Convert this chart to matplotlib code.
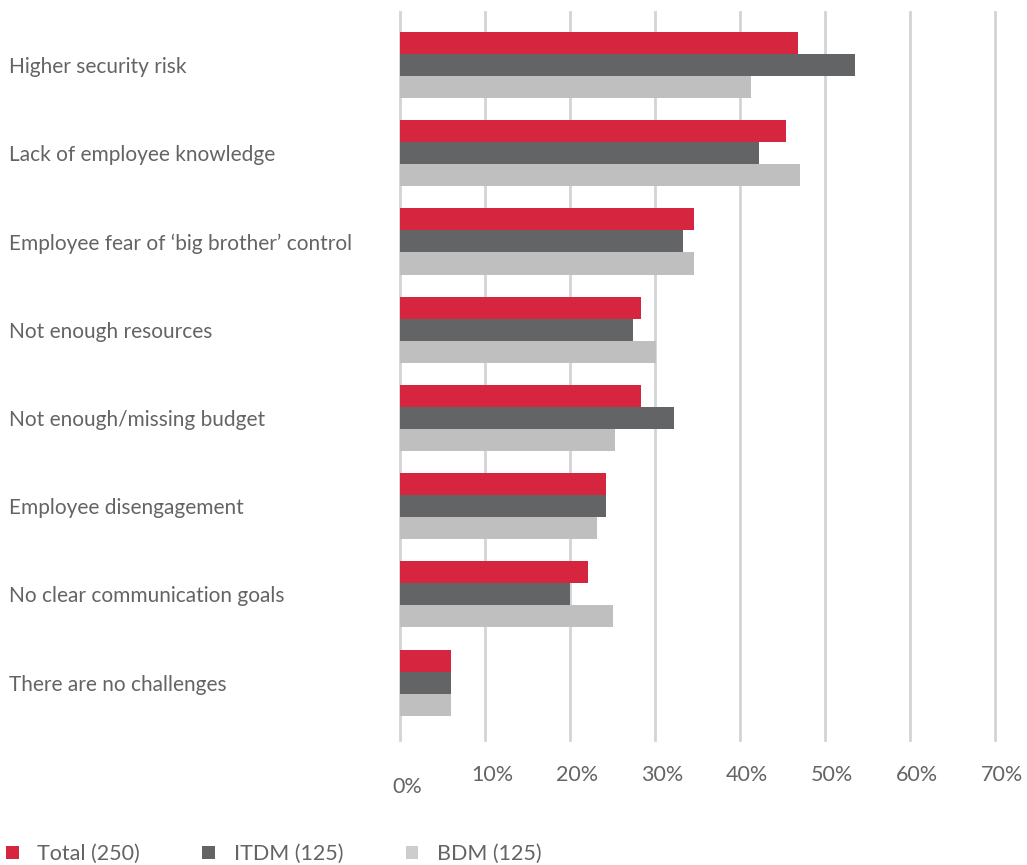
import numpy as np
import matplotlib
matplotlib.use("Agg")
import matplotlib.pyplot as plt
import matplotlib.transforms as mtransforms
from matplotlib.patches import Patch

CATEGORIES = ['Higher security risk', 'Lack of employee knowledge',
              "Employee fear of \u2018big brother\u2019 control", 'Not enough resources',
              'Not enough/missing budget', 'Employee disengagement',
              'No clear communication goals', 'There are no challenges']
TOTAL = [46.8, 45.4, 34.6, 28.4, 28.4, 24.2, 22.1, 6.0]
ITDM = [53.6, 42.3, 33.3, 27.4, 32.2, 24.2, 20.0, 6.0]
BDM = [41.3, 47.1, 34.6, 30.1, 25.3, 23.2, 25.0, 6.0]
SERIES_NAMES = ['Total (250)', 'ITDM (125)', 'BDM (125)']
X_TICKS = [0, 10, 20, 30, 40, 50, 60, 70]

RED, DARK, LIGHT = '#d5253f', '#636466', '#bebfbe'
TEXT = '#646464'

plt.rcParams['font.family'] = ['Lato', 'DejaVu Sans']

W, H = 1027, 865
fig = plt.figure(figsize=(W / 100, H / 100), dpi=100)
ax = fig.add_axes([400.3 / W, (H - 740) / H, (994.6 - 400.3) / W, (740 - 12) / H])

y = np.arange(len(CATEGORIES))
h = 0.25
ax.barh(y - h, TOTAL, height=h, color=RED, zorder=3)
ax.barh(y, ITDM, height=h, color=DARK, zorder=3)
ax.barh(y + h, BDM, height=h, color=LIGHT, zorder=3)

ax.set_xlim(0, 70)
ax.set_ylim(len(CATEGORIES) - 0.35, -0.6)
ax.set_xticks(X_TICKS)
ax.set_xticklabels([f'{t}%' for t in X_TICKS], fontsize=15.5, color=TEXT)
ax.set_yticks(y)
ax.set_yticklabels(CATEGORIES, fontsize=15, color=TEXT, ha='left')
ax.tick_params(axis='y', length=0, pad=282)
ax.tick_params(axis='x', length=0, pad=18)

# percent labels sit slightly right of their gridlines; 0% also drops lower
for i, lab in enumerate(ax.get_xticklabels()):
    dy = -0.12 if i == 0 else 0
    lab.set_transform(lab.get_transform() +
                      mtransforms.ScaledTranslation(0.07, dy, fig.dpi_scale_trans))

ax.grid(axis='x', color='#d4d4d4', linewidth=2, zorder=0)
for gl in ax.xaxis.get_gridlines():
    gl.set_clip_on(False)
for s in ax.spines.values():
    s.set_visible(False)

handles = [Patch(facecolor=c) for c in (RED, DARK, '#cdcdcd')]
fig.legend(handles, SERIES_NAMES, loc='lower left', bbox_to_anchor=(6 / W, 1 / H),
           ncol=3, frameon=False, labelcolor=TEXT, borderpad=0, borderaxespad=0,
           handlelength=0.6, handleheight=0.6, handletextpad=0.85, columnspacing=2.9,
           prop={'size': 15.5})

fig.savefig('out.png', dpi=100)
